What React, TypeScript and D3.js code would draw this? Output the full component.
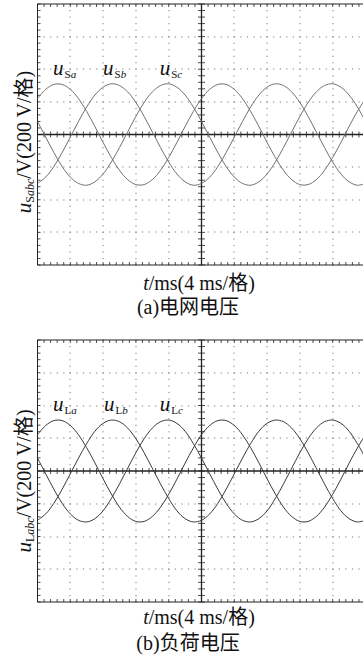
import React from "react";
import * as d3 from "d3";

// time samples (ms)
const timeMs = [0,1,2,3,4,5,6,7,8,9,10,11,12,13,14,15,16,17,18,19,20,21,22,23,24,25,26,27,28,29,30,31,32,33,34,35,36,37,38,39,40];

// (a) grid voltages, V
const uSa = [220,277,307,307,277,220,141,49,-49,-141,-220,-277,-307,-307,-277,-220,-141,-49,49,141,220,277,307,307,277,220,141,49,-49,-141,-220,-277,-307,-307,-277,-220,-141,-49,49,141,220];
const uSb = [-300,-261,-196,-111,-16,80,169,242,290,311,300,261,196,111,16,-80,-169,-242,-290,-311,-300,-261,-196,-111,-16,80,169,242,290,311,300,261,196,111,16,-80,-169,-242,-290,-311,-300];
const uSc = [80,-16,-111,-196,-261,-300,-311,-290,-242,-169,-80,16,111,196,261,300,311,290,242,169,80,-16,-111,-196,-261,-300,-311,-290,-242,-169,-80,16,111,196,261,300,311,290,242,169,80];

// (b) load voltages, V
const uLa = [222,278,308,308,278,221,142,50,-48,-140,-221,-278,-308,-308,-278,-221,-142,-50,48,140,222,278,308,308,278,221,142,50,-48,-140,-221,-278,-308,-308,-278,-221,-142,-50,48,140,222];
const uLb = [-301,-262,-197,-112,-17,79,168,243,291,311,301,262,197,112,17,-79,-168,-243,-291,-311,-301,-262,-197,-112,-17,79,168,243,291,311,301,262,197,112,17,-79,-168,-243,-291,-311,-301];
const uLc = [79,-17,-112,-197,-262,-301,-311,-291,-243,-168,-79,17,112,197,262,301,311,291,243,168,79,-17,-112,-197,-262,-301,-311,-291,-243,-168,-79,17,112,197,262,301,311,291,243,168,79];

const timeDomain = [0, 40];
const voltDomain = [-800, 800];
const timeMajor = [4, 8, 12, 16, 24, 28, 32, 36];
const voltMajor = [-600, -400, -200, 200, 400, 600];

const panels = [
  { key: "a", top: 4, bottom: 265, series: [uSa, uSb, uSc], sub: "S", phases: ["a", "b", "c"], labelT: [1.9, 8.0, 14.9], labelV: 365, yLabelC: 142, xLabelY: 290, capY: 314, caption: "(a)电网电压", stroke: "#707070" },
  { key: "b", top: 340, bottom: 602, series: [uLa, uLb, uLc], sub: "L", phases: ["a", "b", "c"], labelT: [1.9, 8.1, 14.9], labelV: 365, yLabelC: 481, xLabelY: 624, capY: 650, caption: "(b)负荷电压", stroke: "#3a3a3a" },
];

const LEFT = 37.5;
const RIGHT = 365.5;

function Panel({ p }: { p: any }) {
  const x = d3.scaleLinear().domain(timeDomain).range([LEFT, RIGHT]);
  const y = d3.scaleLinear().domain(voltDomain).range([p.bottom, p.top]);
  const line = d3
    .line<number>()
    .x((_, i) => x(timeMs[i]))
    .y((v) => y(v))
    .curve(d3.curveCatmullRom);

  const minorT = d3.range(0, 40.001, 0.8);
  const minorV = d3.range(-800, 800.001, 40);
  const dotCol = "#7a7a7a";
  const axisCol = "#222";
  const cx = x(20);
  const cy = y(0);
  const clipId = "clip-" + p.key;

  return (
    <g>
      <defs>
        <clipPath id={clipId}>
          <rect x={LEFT} y={p.top} width={RIGHT - LEFT} height={p.bottom - p.top} />
        </clipPath>
      </defs>
      {/* dotted grid */}
      {timeMajor.map((t) =>
        minorV.map((v, j) => (
          <rect key={`gv${t}-${j}`} x={Math.round(x(t)) - 0.5} y={y(v) - 0.5} width={1} height={1.2} fill={dotCol} />
        ))
      )}
      {voltMajor.map((v) =>
        minorT.map((t, j) => (
          <rect key={`gh${v}-${j}`} x={x(t) - 0.5} y={Math.round(y(v)) - 0.5} width={1.2} height={1} fill={dotCol} />
        ))
      )}
      {/* borders */}
      <line x1={LEFT} x2={RIGHT} y1={p.top} y2={p.top} stroke={axisCol} strokeWidth={1} />
      <line x1={LEFT} x2={RIGHT} y1={p.bottom} y2={p.bottom} stroke={axisCol} strokeWidth={1} />
      <line x1={LEFT} x2={LEFT} y1={p.top} y2={p.bottom} stroke={axisCol} strokeWidth={1} />
      {minorT.map((t, j) => (
        <g key={`bt${j}`}>
          <line x1={x(t)} x2={x(t)} y1={p.top} y2={p.top + 3} stroke={axisCol} strokeWidth={0.8} />
          <line x1={x(t)} x2={x(t)} y1={p.bottom} y2={p.bottom - 3} stroke={axisCol} strokeWidth={0.8} />
          <line x1={x(t)} x2={x(t)} y1={cy - 3} y2={cy + 3} stroke={axisCol} strokeWidth={0.8} />
        </g>
      ))}
      {minorV.map((v, j) => (
        <g key={`lt${j}`}>
          <line x1={LEFT} x2={LEFT + 3} y1={y(v)} y2={y(v)} stroke={axisCol} strokeWidth={0.8} />
          <line x1={cx - 3.5} x2={cx + 3.5} y1={y(v)} y2={y(v)} stroke={axisCol} strokeWidth={0.8} />
        </g>
      ))}
      {/* centre axes */}
      <line x1={LEFT} x2={RIGHT} y1={cy} y2={cy} stroke={axisCol} strokeWidth={1.3} />
      <line x1={cx} x2={cx} y1={p.top} y2={p.bottom} stroke={axisCol} strokeWidth={1.3} />
      {/* waveforms */}
      <g clipPath={`url(#${clipId})`}>
        {p.series.map((s: number[], i: number) => (
          <path key={`s${i}`} d={line(s) || ""} fill="none" stroke={p.stroke} strokeWidth={1} />
        ))}
      </g>
      {/* phase labels */}
      {p.phases.map((ph: string, i: number) => (
        <text key={`pl${i}`} x={x(p.labelT[i])} y={y(p.labelV)} fontFamily="'Liberation Serif', serif" fill="#111">
          <tspan fontStyle="italic" fontSize={21}>u</tspan>
          <tspan fontSize={11} dy={3} dx={1}>{p.sub}</tspan>
          <tspan fontSize={11} fontStyle="italic">{ph}</tspan>
        </text>
      ))}
      {/* y label */}
      <text
        transform={`translate(31,${p.yLabelC}) rotate(-90)`}
        textAnchor="middle"
        fontFamily="'Liberation Serif', 'Noto Sans CJK SC', serif"
        fontSize={20}
        fill="#111"
      >
        <tspan fontStyle="italic" fontSize={21}>u</tspan>
        <tspan fontSize={12} dy={3}>{p.sub}</tspan>
        <tspan fontSize={12} fontStyle="italic">abc</tspan>
        <tspan dy={-3}>/V(200 V/格)</tspan>
      </text>
      {/* x label */}
      <text x={199} y={p.xLabelY} textAnchor="middle" fontFamily="'Liberation Serif', 'Noto Sans CJK SC', serif" fontSize={20} fill="#111">
        <tspan fontStyle="italic">t</tspan>
        <tspan>/ms(4 ms/格)</tspan>
      </text>
      <text x={188} y={p.capY} textAnchor="middle" fontFamily="'Liberation Serif', 'Noto Sans CJK SC', serif" fontSize={20} fill="#111">
        {p.caption}
      </text>
    </g>
  );
}

export default function App() {
  return (
    <svg
      width={363}
      height={658}
      viewBox="0 0 363 658"
      style={{ position: "absolute", left: 0, top: 0, background: "#fff" }}
    >
      <rect x={0} y={0} width={363} height={658} fill="#fff" />
      {panels.map((p) => (
        <Panel key={p.key} p={p} />
      ))}
    </svg>
  );
}
